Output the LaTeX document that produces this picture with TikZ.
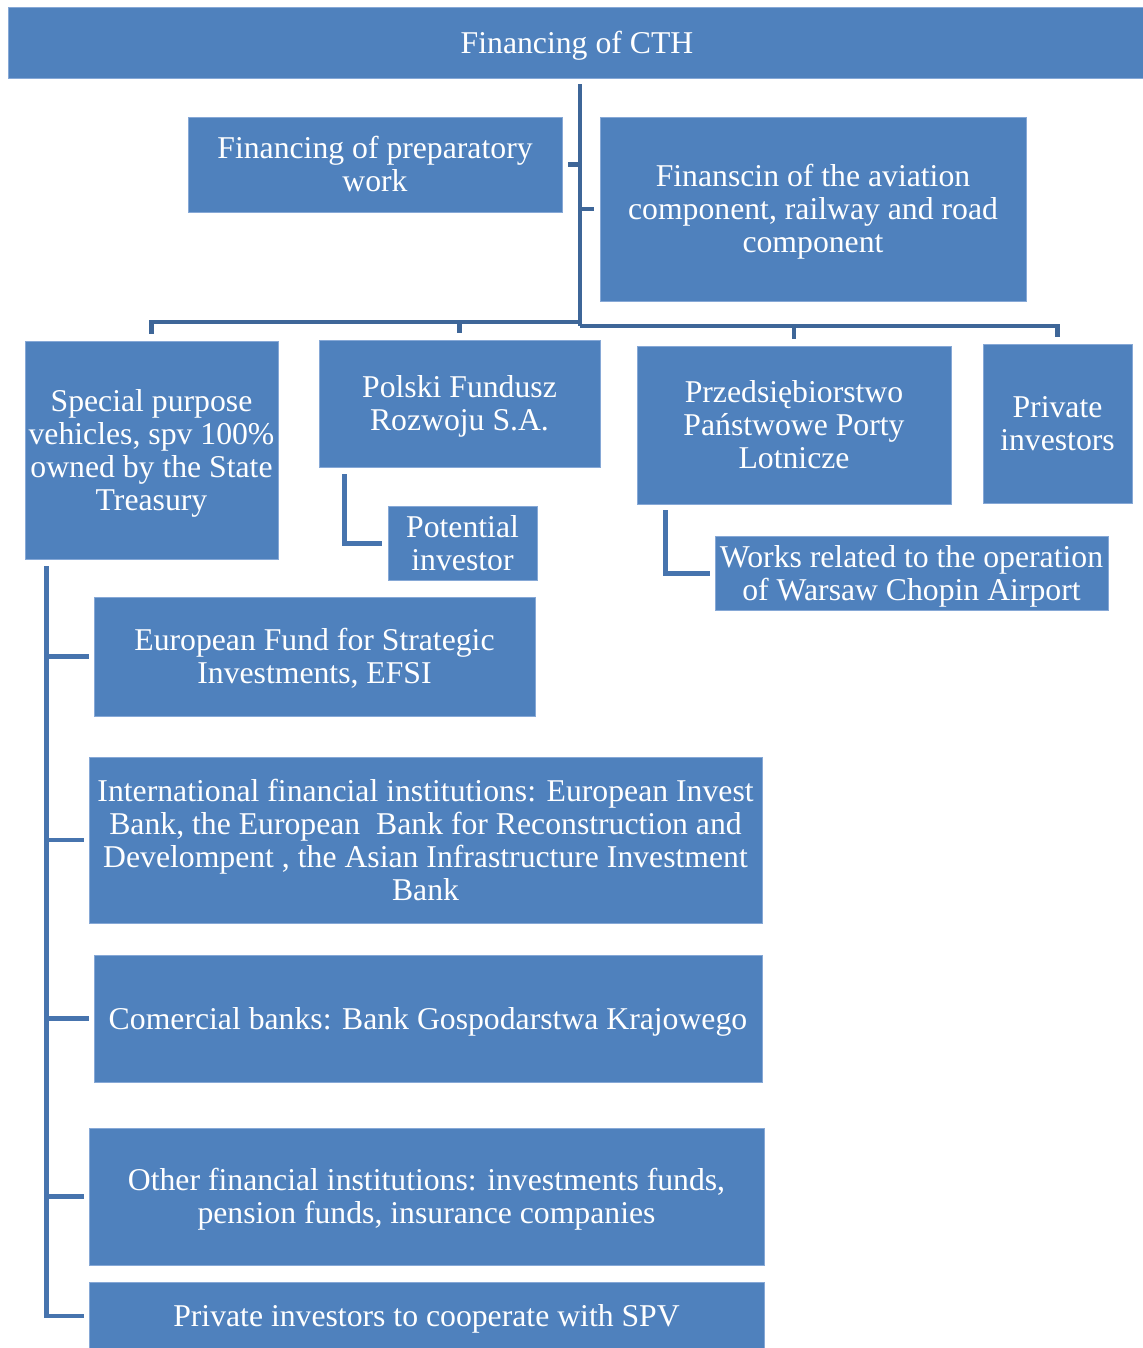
\documentclass[tikz,border=0pt]{standalone}
\usepackage{fontspec}
\setmainfont{Liberation Serif}
\usetikzlibrary{calc}
\definecolor{boxfill}{HTML}{4F81BD}
\definecolor{boxline}{HTML}{86A8D6}
\definecolor{connA}{HTML}{3E6698}
\definecolor{connB}{HTML}{4774AE}
\newcommand{\boxtext}[1]{\raisebox{0pt}[\dimexpr\height+4.6pt\relax][\depth]{\begin{tabular}{@{}c@{}}#1\end{tabular}}}
\tikzset{
  box/.style 2 args={rectangle, fill=boxfill, draw=boxline, line width=0.5pt,
    text=white, inner sep=0pt,
    font=\fontsize{18.05}{18.8}\selectfont,
    minimum width=#1*0.02cm, minimum height=#2*0.02cm},
  conn/.style={draw=connA, line width=2.8pt, line join=miter},
  connL/.style={draw=connB, line width=2.8pt, line join=miter}
}
\begin{document}
\begin{tikzpicture}[x=0.02cm, y=-0.02cm]
\useasboundingbox (0,0) rectangle (1142,1348);
\fill[white] (0,0) rectangle (1142,1348);

% nodes
\node[box={1138}{71}] (top) at (577,42.5) {\boxtext{Financing of CTH}};
\node[box={374}{95}] (prep) at (375,164.5) {\boxtext{Financing of preparatory\\work}};
\node[box={426}{184}] (avi) at (813,209) {\boxtext{Finanscin of the aviation\\component, railway and road\\component}};
\node[box={253}{218}] (spv) at (151.5,450) {\boxtext{Special purpose\\vehicles, spv 100\%\\owned by the State\\Treasury}};
\node[box={281}{127}] (pfr) at (459.5,403.5) {\boxtext{Polski Fundusz\\Rozwoju S.A.}};
\node[box={314}{158}] (ppl) at (794,425) {\boxtext{Przedsiębiorstwo\\Państwowe Porty\\Lotnicze}};
\node[box={149}{159}] (priv) at (1057.5,423.5) {\boxtext{Private\\investors}};
\node[box={149}{71}] (pot) at (462.5,543.5) {\boxtext{Potential\\investor}};
\node[box={393}{71}] (works) at (911.5,573.5) {\boxtext{Works related to the operation\\of Warsaw Chopin Airport}};
\node[box={441}{119}] (efsi) at (314.5,656.5) {\boxtext{European Fund for Strategic\\Investments, EFSI}};
\node[box={673}{166}] (ifi) at (425.5,840) {\boxtext{International financial institutions: European Invest\\Bank, the European\ \ Bank for Reconstruction and\\Develompent\ , the Asian Infrastructure Investment\\Bank}};
\node[box={668}{127}] (com) at (428,1018.5) {\boxtext{Comercial banks: Bank Gospodarstwa Krajowego}};
\node[box={675}{137}] (oth) at (426.5,1196.5) {\boxtext{Other financial institutions: investments funds,\\pension funds, insurance companies}};
\node[box={675}{68}] (psp) at (426.5,1316) {\boxtext{Private investors to cooperate with SPV}};

% junction coordinates
\coordinate (trunktop) at ($(top.south -| 580,0)+(0,6)$);
\coordinate (busL) at (580,322);
\coordinate (busR) at (580,326);

% top connectors
\draw[conn] (trunktop) -- (busR);
\draw[conn] ($(prep.east)+(6,0)$) -- (busL |- prep.east);
\draw[conn] (busL |- avi.west) -- ($(avi.west)+(-6,0)$);
\draw[conn] ($(spv.north)+(0,-7)$) |- (busL);
\draw[conn] ($(pfr.north)+(0,-7)$) -- (pfr.north |- busL);
\draw[conn] ($(ppl.north)+(0,-7)$) |- (busR);
\draw[conn] ($(priv.north)+(0,-7)$) |- (busR);

% second level connectors
\draw[connL] ($(pfr.south west)+(26,7)$) |- ($(pot.west)+(-6,0)$);
\draw[connL] ($(ppl.south west)+(29,6)$) |- ($(works.west)+(-5,0)$);

% SPV tree
\coordinate (spvtop) at ($(spv.south west)+(22,7)$);
\draw[connL] (spvtop) |- ($(psp.west)+(-5,0)$);
\draw[connL] (spvtop |- efsi.west) -- ($(efsi.west)+(-5,0)$);
\draw[connL] (spvtop |- ifi.west) -- ($(ifi.west)+(-5,0)$);
\draw[connL] (spvtop |- com.west) -- ($(com.west)+(-5,0)$);
\draw[connL] (spvtop |- oth.west) -- ($(oth.west)+(-5,0)$);
\end{tikzpicture}
\end{document}
